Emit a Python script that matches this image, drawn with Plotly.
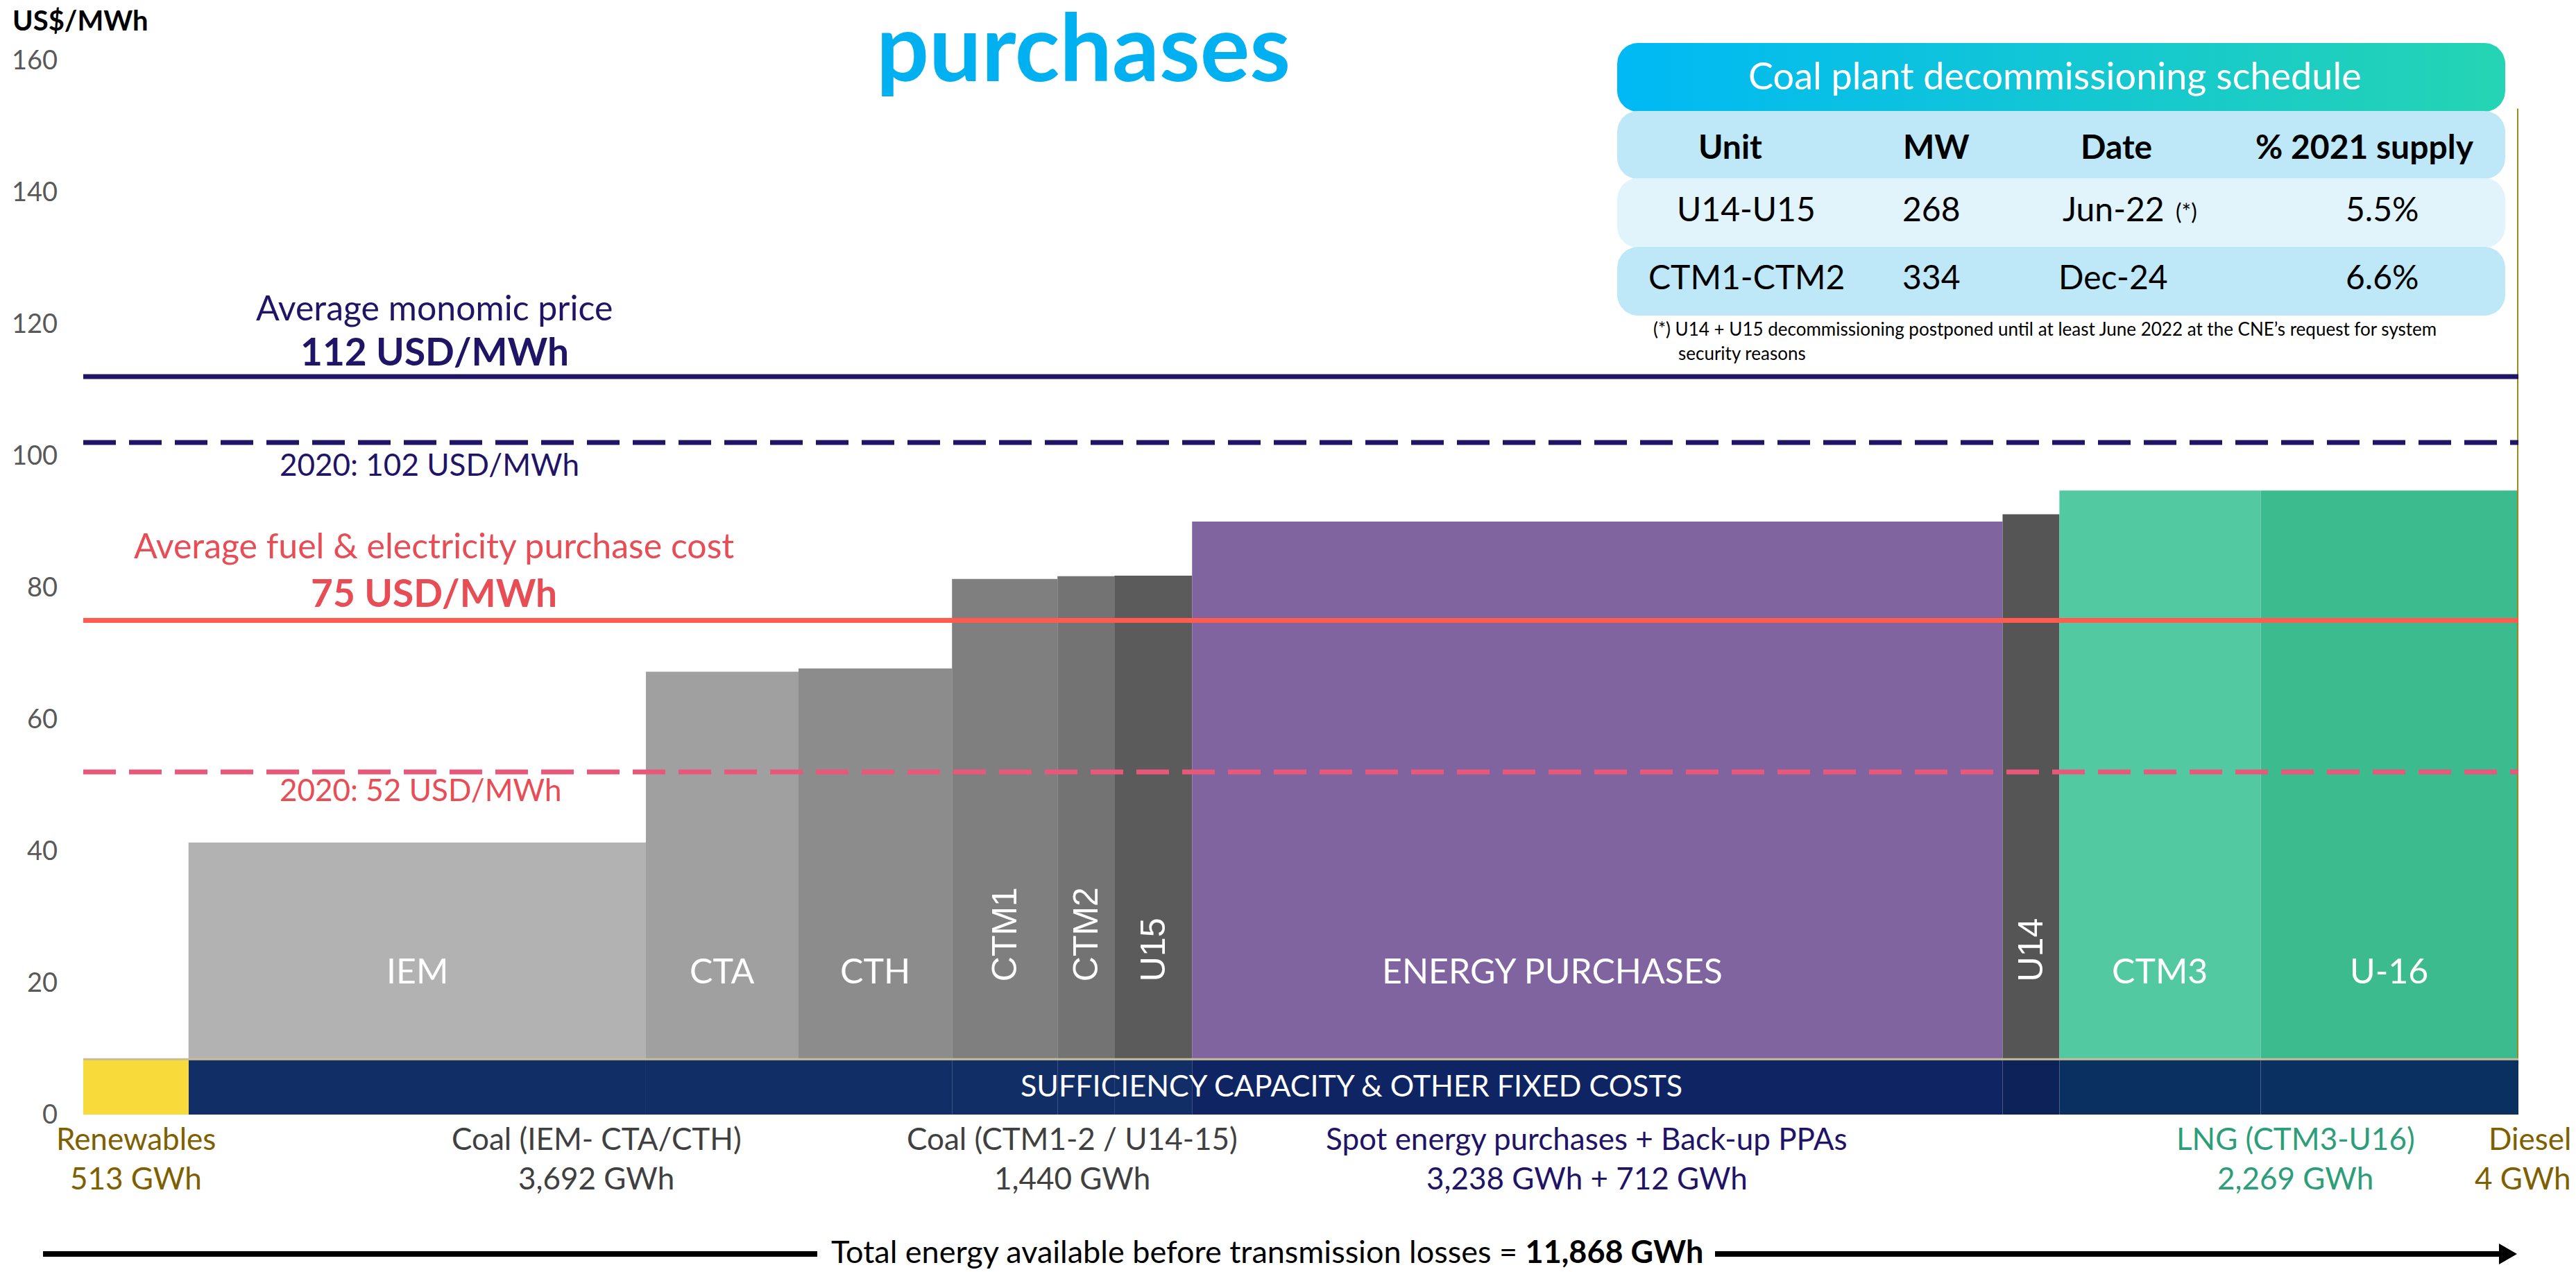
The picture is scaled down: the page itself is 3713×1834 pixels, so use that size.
import numpy as np
import plotly.graph_objects as go

W, H = 3713, 1834
FONT = "Lato"

# ---------------- data ----------------
segments = ["Renewables", "IEM", "CTA", "CTH", "CTM1", "CTM2", "U15",
            "ENERGY PURCHASES", "U14", "CTM3", "U-16", "Diesel"]
energy_gwh = [513, 2229, 744, 748, 514, 277, 379, 3950, 277, 981, 1252, 4]
cost_top = [8.4, 41.3, 67.2, 67.7, 81.3, 81.7, 81.8, 90.0, 91.1, 94.7, 94.7, 152.6]
fixed_cost = 8.4
bar_colors = ["#F9DA3B", "#B2B2B2", "#A0A0A0", "#8C8C8C", "#7F7F7F", "#737373",
              "#5B5B5B", "#8064A0", "#555555", "#52C9A0", "#3CBB8F", "#9E8A1E"]
band_colors = ["#F9DA3B", "#122E66", "#122E66", "#122E66", "#122E66", "#122E66",
               "#122E66", "#0F2563", "#0C2259", "#0A3062", "#0A3062", "#0A3062"]
rotated_labels = ["CTM1", "CTM2", "U15", "U14"]
hidden_labels = ["Renewables", "Diesel"]

monomic_price = 112
monomic_price_2020 = 102
fuel_cost = 75
fuel_cost_2020 = 52

groups = [
    ("Renewables", "513 GWh", ["Renewables"], "#7F6000"),
    ("Coal (IEM- CTA/CTH)", "3,692 GWh", ["IEM", "CTA", "CTH"], "#404040"),
    ("Coal (CTM1-2 / U14-15)", "1,440 GWh", ["CTM1", "CTM2", "U15"], "#404040"),
    ("Spot energy purchases + Back-up PPAs", "3,238 GWh + 712 GWh", ["ENERGY PURCHASES"], "#1F1466"),
    ("LNG (CTM3-U16)", "2,269 GWh", ["CTM3", "U-16"], "#2E9E7A"),
    ("Diesel", "4 GWh", ["Diesel"], "#7F6000"),
]
group_shift_px = [0, 38, 0, -15, 10, 0]
total_gwh = "11,868 GWh"

table_units = ["U14-U15", "CTM1-CTM2"]
table_mw = [268, 334]
table_dates = ["Jun-22", "Dec-24"]
table_notes = ["(*)", ""]
table_share = [5.5, 6.6]
footnote = ["(*) U14 + U15 decommissioning postponed until at least June 2022 at the CNE\u2019s request for system",
            "security reasons"]

# ---------------- geometry helpers ----------------
edges = np.concatenate([[0], np.cumsum(energy_gwh)])
mids = (edges[:-1] + edges[1:]) / 2
total = edges[-1]
X0, X1 = 120, 3630          # plot area (px)
Y0, Y160 = 1607, 87


def pxx(v):
    return v / W


def pxy(v):
    return 1 - v / H


fig = go.Figure()

# fixed-cost band (all but renewables)
base_band = [0] * len(segments)
band_y = [fixed_cost if s != "Renewables" else 0 for s in segments]
fig.add_trace(go.Bar(x=mids, y=band_y, base=base_band, width=energy_gwh,
                     marker=dict(color=band_colors, line=dict(width=0)),
                     hoverinfo="skip"))

# cost bars
bases = [0 if s == "Renewables" else fixed_cost for s in segments]
heights = [t - b for t, b in zip(cost_top, bases)]
line_w = [1.6 if s == "Diesel" else 0 for s in segments]
fig.add_trace(go.Bar(x=mids, y=heights, base=bases, width=energy_gwh,
                     marker=dict(color=bar_colors, line=dict(width=line_w, color=bar_colors)),
                     hoverinfo="skip"))

# tan line at top of the band
fig.add_trace(go.Scatter(x=[0, total], y=[fixed_cost, fixed_cost], mode="lines",
                         line=dict(color="#C8BD95", width=3), hoverinfo="skip"))

# reference lines
fig.add_trace(go.Scatter(x=[0, total], y=[monomic_price_2020] * 2, mode="lines",
                         line=dict(color="#1F1466", width=7, dash="47px,19px"), hoverinfo="skip"))
fig.add_trace(go.Scatter(x=[0, total], y=[monomic_price] * 2, mode="lines",
                         line=dict(color="#1F1466", width=7), hoverinfo="skip"))
fig.add_trace(go.Scatter(x=[0, total], y=[fuel_cost_2020] * 2, mode="lines",
                         line=dict(color="#E8587A", width=7, dash="47px,19px"), hoverinfo="skip"))
fig.add_trace(go.Scatter(x=[0, total], y=[fuel_cost] * 2, mode="lines",
                         line=dict(color="#FF5B4F", width=7), hoverinfo="skip"))


# ---------------- table (pixel overlay axes) ----------------
def rrect(x0, y0, x1, y1, r, n=14):
    xs, ys = [], []
    corners = [(x1 - r, y0 + r, -90, 0), (x1 - r, y1 - r, 0, 90),
               (x0 + r, y1 - r, 90, 180), (x0 + r, y0 + r, 180, 270)]
    for cx, cy, a0, a1 in corners:
        for a in np.radians(np.linspace(a0, a1, n)):
            xs.append(cx + r * np.cos(a))
            ys.append(cy + r * np.sin(a))
    xs.append(xs[0])
    ys.append(ys[0])
    return xs, ys


TX0, TX1 = 2331, 3611
row_bounds = [(62, 161), (160, 258), (257, 357), (356, 455)]
row_fill = [None, "#BEE7F7", "#E1F3FB", "#BEE7F7"]
for i, (a, b) in enumerate(row_bounds):
    xs, ys = rrect(TX0, a, TX1, b, 30)
    if i == 0:
        fig.add_trace(go.Scatter(x=xs, y=ys, xaxis="x2", yaxis="y2", mode="lines",
                                 fill="toself", line=dict(width=0, color="rgba(0,0,0,0)"),
                                 fillgradient=dict(type="horizontal",
                                                   colorscale=[[0, "#00B9F5"], [1, "#25D4B3"]]),
                                 hoverinfo="skip"))
    else:
        fig.add_trace(go.Scatter(x=xs, y=ys, xaxis="x2", yaxis="y2", mode="lines",
                                 fill="toself", fillcolor=row_fill[i],
                                 line=dict(width=0, color="rgba(0,0,0,0)"), hoverinfo="skip"))

ann = []
VOFF = 0.04   # shift (in font sizes) from visual cap-centre to annotation box centre


def txt(text, x, y, size, color, bold=False, xanchor="center", yanchor="middle",
        family=FONT, voff=True, **kw):
    if bold:
        text = "<b>" + text + "</b>"
    yy = y - VOFF * size if voff else y
    ann.append(dict(text=text, x=pxx(x), y=pxy(yy), xref="paper", yref="paper",
                    xanchor=xanchor, yanchor=yanchor, showarrow=False,
                    font=dict(family=family, size=size, color=color), **kw))


# title fragment
txt("purchases", 1561, 66, 134, "#00B0F0", bold=True, voff=False)
# y-axis unit
txt("US$/MWh", 16, 31, 40, "#000000", bold=True, xanchor="left")

# line labels
txt("Average monomic price", 626, 445, 50, "#1F1466")
txt(f"{monomic_price} USD/MWh", 626, 508, 55, "#1F1466", bold=True)
txt(f"2020: {monomic_price_2020} USD/MWh", 619, 671, 44, "#1F1466")
txt("Average fuel &amp; electricity purchase cost", 625, 788, 50, "#E84C55")
txt(f"{fuel_cost} USD/MWh", 625, 856, 55, "#E84C55", bold=True)
txt(f"2020: {fuel_cost_2020} USD/MWh", 606, 1140, 44, "#E84C55")

# band label
txt("SUFFICIENCY CAPACITY &amp; OTHER FIXED COSTS", 1948, 1566, 43, "#FFFFFF")

# bar labels
for s, m in zip(segments, mids):
    if s in hidden_labels:
        continue
    if s in rotated_labels:
        ann.append(dict(text=s, x=m, y=20.0, xref="x", yref="y", textangle=-90,
                        xanchor="center", yanchor="bottom", showarrow=False,
                        font=dict(family="Liberation Sans", size=50, color="#FFFFFF")))
    else:
        shift = -65 if s == "ENERGY PURCHASES" else 0
        ann.append(dict(text=s, x=m, y=21.9, xref="x", yref="y", xshift=shift,
                        xanchor="center", yanchor="middle", showarrow=False,
                        font=dict(family=FONT, size=50, color="#FFFFFF")))

# group labels under the axis
for (l1, l2, members, col), shift in zip(groups, group_shift_px):
    idx = [segments.index(m) for m in members]
    cx = (edges[min(idx)] + edges[max(idx) + 1]) / 2
    for text, ypix in ((l1, 1642), (l2, 1699)):
        if members == ["Diesel"]:
            ann.append(dict(text=text, x=pxx(3708), y=pxy(ypix - 1), xref="paper", yref="paper",
                            xanchor="right", yanchor="middle", showarrow=False,
                            font=dict(family=FONT, size=44, color=col)))
        else:
            ann.append(dict(text=text, x=cx, y=pxy(ypix - 1), xref="x", yref="paper", xshift=shift,
                            xanchor="center", yanchor="middle", showarrow=False,
                            font=dict(family=FONT, size=44, color=col)))

# total arrow text
txt(f"Total energy available before transmission losses = <b>{total_gwh}</b>",
    1826, 1806, 45, "#000000")

# table texts
txt("Coal plant decommissioning schedule", 2962, 111, 54, "#FFFFFF")
for label, cx in zip(["Unit", "MW", "Date", "% 2021 supply"], [2494, 2791, 3050, 3408]):
    txt(label, cx, 212, 48, "#000000", bold=True)
for i, ycen in enumerate([302, 400]):
    txt(table_units[i], 2517, ycen, 48, "#000000")
    txt(str(table_mw[i]), 2784, ycen, 48, "#000000")
    txt(table_dates[i], 3046, ycen, 48, "#000000")
    if table_notes[i]:
        txt(table_notes[i], 3151, ycen + 4, 32, "#000000")
    txt(f"{table_share[i]:.1f}%", 3433, ycen, 48, "#000000")
txt(footnote[0], 2381, 475, 26, "#000000", xanchor="left")
txt(footnote[1], 2417, 510, 26, "#000000", xanchor="left")

# arrow shapes
shapes = [
    dict(type="line", xref="paper", yref="paper", x0=pxx(62), x1=pxx(1178),
         y0=pxy(1808), y1=pxy(1808), line=dict(color="#000000", width=8)),
    dict(type="line", xref="paper", yref="paper", x0=pxx(2472), x1=pxx(3608),
         y0=pxy(1808), y1=pxy(1808), line=dict(color="#000000", width=8)),
    dict(type="path", xref="paper", yref="paper",
         path=f"M {pxx(3602)} {pxy(1793)} L {pxx(3628)} {pxy(1808)} L {pxx(3602)} {pxy(1823)} Z",
         fillcolor="#000000", line=dict(width=0)),
]

fig.update_layout(
    template="none",
    width=W, height=H,
    margin=dict(l=0, r=0, t=0, b=0),
    paper_bgcolor="#FFFFFF", plot_bgcolor="rgba(0,0,0,0)",
    showlegend=False, barmode="overlay",
    xaxis=dict(domain=[X0 / W, X1 / W], range=[0, total], visible=False, fixedrange=True),
    yaxis=dict(domain=[(H - Y0) / H, (H - Y160) / H], range=[0, 160],
               tickvals=list(range(0, 161, 20)), showgrid=False, zeroline=False,
               showline=False, ticks="", ticklabelstandoff=36, automargin=False,
               tickfont=dict(family=FONT, size=38, color="#595959")),
    xaxis2=dict(domain=[0, 1], range=[0, W], visible=False, anchor="y2"),
    yaxis2=dict(domain=[0, 1], range=[H, 0], visible=False, anchor="x2"),
    annotations=ann, shapes=shapes,
)

fig.write_html("out.html", config={"displayModeBar": False},
               post_script="document.body.style.margin='0px';document.body.style.overflow='hidden';")
